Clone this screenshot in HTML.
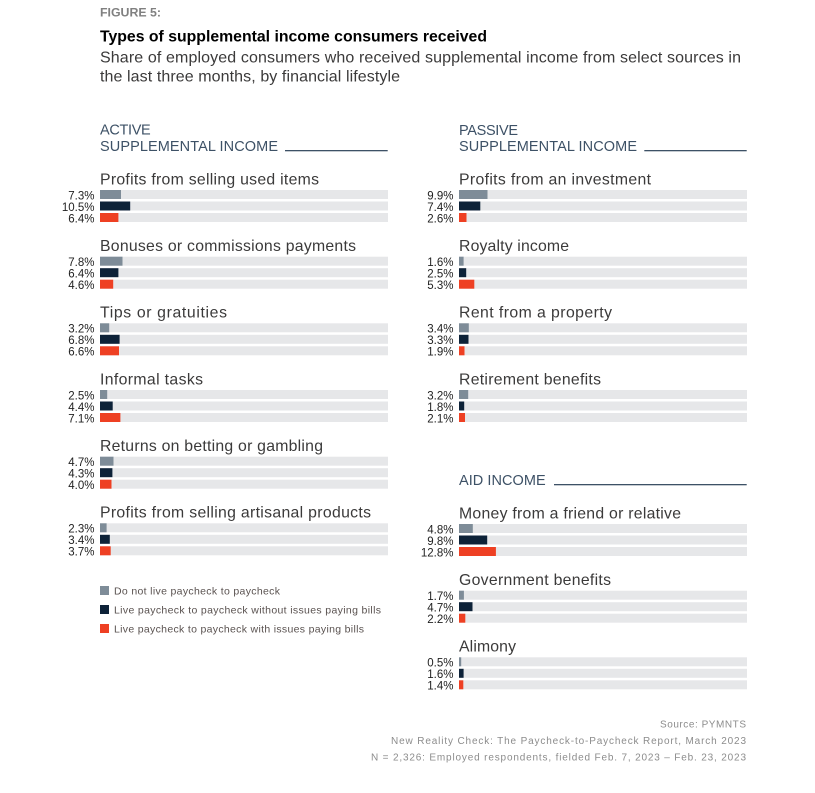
<!DOCTYPE html>
<html>
<head>
<meta charset="utf-8">
<style>
html,body{margin:0;padding:0;background:#ffffff;}
svg{display:block;}
text{font-family:"Liberation Sans",Arial,sans-serif;}
.gt{font-size:15.8px;fill:#3b3a3a;}
.pl{font-size:11.5px;fill:#222222;text-anchor:end;}
.hd{font-size:14.5px;fill:#3d5166;}
.lg{font-size:10.5px;fill:#5a5250;}
.ft{font-size:10px;fill:#8c8c8c;text-anchor:end;}
.tr{fill:#e6e7e9;}
.c1{fill:#7e8c98;}
.c2{fill:#0d2238;}
.c3{fill:#ee4023;}
</style>
</head>
<body>
<svg width="815" height="793" viewBox="0 0 815 793" xmlns="http://www.w3.org/2000/svg">
<rect width="815" height="793" fill="#ffffff"/>

<text x="100" y="16.7" font-size="12" font-weight="bold" fill="#808080" textLength="61" lengthAdjust="spacingAndGlyphs">FIGURE 5:</text>
<text x="100" y="41.7" font-size="15.5" font-weight="bold" fill="#000000" textLength="387" lengthAdjust="spacingAndGlyphs">Types of supplemental income consumers received</text>
<text x="100" y="62.3" font-size="16" fill="#3b3a3a" textLength="641" lengthAdjust="spacing">Share of employed consumers who received supplemental income from select sources in</text>
<text x="100" y="81.7" font-size="16" fill="#3b3a3a" textLength="300" lengthAdjust="spacing">the last three months, by financial lifestyle</text>

<text class="hd" x="100" y="134.3" textLength="50.7" lengthAdjust="spacing">ACTIVE</text>
<text class="hd" x="100" y="151" textLength="178" lengthAdjust="spacing">SUPPLEMENTAL INCOME</text>
<rect x="285" y="150" width="102.7" height="1.3" fill="#3d5166"/>

<text class="hd" x="459" y="134.8" textLength="59" lengthAdjust="spacing">PASSIVE</text>
<text class="hd" x="459" y="151" textLength="178" lengthAdjust="spacing">SUPPLEMENTAL INCOME</text>
<rect x="644.3" y="150" width="102.4" height="1.3" fill="#3d5166"/>

<text class="hd" x="459" y="485" textLength="86.7" lengthAdjust="spacing">AID INCOME</text>
<rect x="554" y="484" width="192.7" height="1.3" fill="#3d5166"/>

<text class="gt" x="100" y="184.3" textLength="219" lengthAdjust="spacing">Profits from selling used items</text>
<rect class="tr" x="100" y="190" width="288" height="9"/>
<rect class="tr" x="100" y="201.5" width="288" height="9"/>
<rect class="tr" x="100" y="213" width="288" height="9"/>
<rect class="c1" x="100" y="190" width="21.0" height="9"/>
<rect class="c2" x="100" y="201.5" width="30.2" height="9"/>
<rect class="c3" x="100" y="213" width="18.4" height="9"/>
<text class="pl" x="94.5" y="199.3">7.3%</text>
<text class="pl" x="94.5" y="210.8">10.5%</text>
<text class="pl" x="94.5" y="222.3">6.4%</text>

<text class="gt" x="100" y="251" textLength="256" lengthAdjust="spacing">Bonuses or commissions payments</text>
<rect class="tr" x="100" y="256.7" width="288" height="9"/>
<rect class="tr" x="100" y="268.2" width="288" height="9"/>
<rect class="tr" x="100" y="279.7" width="288" height="9"/>
<rect class="c1" x="100" y="256.7" width="22.5" height="9"/>
<rect class="c2" x="100" y="268.2" width="18.4" height="9"/>
<rect class="c3" x="100" y="279.7" width="13.2" height="9"/>
<text class="pl" x="94.5" y="266">7.8%</text>
<text class="pl" x="94.5" y="277.5">6.4%</text>
<text class="pl" x="94.5" y="289">4.6%</text>

<text class="gt" x="100" y="317.6" textLength="127" lengthAdjust="spacing">Tips or gratuities</text>
<rect class="tr" x="100" y="323.3" width="288" height="9"/>
<rect class="tr" x="100" y="334.8" width="288" height="9"/>
<rect class="tr" x="100" y="346.3" width="288" height="9"/>
<rect class="c1" x="100" y="323.3" width="9.2" height="9"/>
<rect class="c2" x="100" y="334.8" width="19.6" height="9"/>
<rect class="c3" x="100" y="346.3" width="19.0" height="9"/>
<text class="pl" x="94.5" y="332.6">3.2%</text>
<text class="pl" x="94.5" y="344.1">6.8%</text>
<text class="pl" x="94.5" y="355.6">6.6%</text>

<text class="gt" x="100" y="384.3" textLength="103" lengthAdjust="spacing">Informal tasks</text>
<rect class="tr" x="100" y="390" width="288" height="9"/>
<rect class="tr" x="100" y="401.5" width="288" height="9"/>
<rect class="tr" x="100" y="413" width="288" height="9"/>
<rect class="c1" x="100" y="390" width="7.2" height="9"/>
<rect class="c2" x="100" y="401.5" width="12.7" height="9"/>
<rect class="c3" x="100" y="413" width="20.4" height="9"/>
<text class="pl" x="94.5" y="399.3">2.5%</text>
<text class="pl" x="94.5" y="410.8">4.4%</text>
<text class="pl" x="94.5" y="422.3">7.1%</text>

<text class="gt" x="100" y="451" textLength="223" lengthAdjust="spacing">Returns on betting or gambling</text>
<rect class="tr" x="100" y="456.7" width="288" height="9"/>
<rect class="tr" x="100" y="468.2" width="288" height="9"/>
<rect class="tr" x="100" y="479.7" width="288" height="9"/>
<rect class="c1" x="100" y="456.7" width="13.5" height="9"/>
<rect class="c2" x="100" y="468.2" width="12.4" height="9"/>
<rect class="c3" x="100" y="479.7" width="11.5" height="9"/>
<text class="pl" x="94.5" y="466">4.7%</text>
<text class="pl" x="94.5" y="477.5">4.3%</text>
<text class="pl" x="94.5" y="489">4.0%</text>

<text class="gt" x="100" y="517.6" textLength="271" lengthAdjust="spacing">Profits from selling artisanal products</text>
<rect class="tr" x="100" y="523.3" width="288" height="9"/>
<rect class="tr" x="100" y="534.8" width="288" height="9"/>
<rect class="tr" x="100" y="546.3" width="288" height="9"/>
<rect class="c1" x="100" y="523.3" width="6.6" height="9"/>
<rect class="c2" x="100" y="534.8" width="9.8" height="9"/>
<rect class="c3" x="100" y="546.3" width="10.7" height="9"/>
<text class="pl" x="94.5" y="532.6">2.3%</text>
<text class="pl" x="94.5" y="544.1">3.4%</text>
<text class="pl" x="94.5" y="555.6">3.7%</text>

<rect class="c1" x="100" y="586" width="9" height="9"/>
<text class="lg" x="114" y="594.5" textLength="166" lengthAdjust="spacing">Do not live paycheck to paycheck</text>
<rect class="c2" x="100" y="605" width="9" height="9"/>
<text class="lg" x="114" y="613.5" textLength="267" lengthAdjust="spacing">Live paycheck to paycheck without issues paying bills</text>
<rect class="c3" x="100" y="624" width="9" height="9"/>
<text class="lg" x="114" y="632.5" textLength="250" lengthAdjust="spacing">Live paycheck to paycheck with issues paying bills</text>

<text class="gt" x="459" y="184.3" textLength="192" lengthAdjust="spacing">Profits from an investment</text>
<rect class="tr" x="459" y="190" width="288" height="9"/>
<rect class="tr" x="459" y="201.5" width="288" height="9"/>
<rect class="tr" x="459" y="213" width="288" height="9"/>
<rect class="c1" x="459" y="190" width="28.5" height="9"/>
<rect class="c2" x="459" y="201.5" width="21.3" height="9"/>
<rect class="c3" x="459" y="213" width="7.5" height="9"/>
<text class="pl" x="453.5" y="199.3">9.9%</text>
<text class="pl" x="453.5" y="210.8">7.4%</text>
<text class="pl" x="453.5" y="222.3">2.6%</text>

<text class="gt" x="459" y="251" textLength="110" lengthAdjust="spacing">Royalty income</text>
<rect class="tr" x="459" y="256.7" width="288" height="9"/>
<rect class="tr" x="459" y="268.2" width="288" height="9"/>
<rect class="tr" x="459" y="279.7" width="288" height="9"/>
<rect class="c1" x="459" y="256.7" width="4.6" height="9"/>
<rect class="c2" x="459" y="268.2" width="7.2" height="9"/>
<rect class="c3" x="459" y="279.7" width="15.3" height="9"/>
<text class="pl" x="453.5" y="266">1.6%</text>
<text class="pl" x="453.5" y="277.5">2.5%</text>
<text class="pl" x="453.5" y="289">5.3%</text>

<text class="gt" x="459" y="317.6" textLength="153" lengthAdjust="spacing">Rent from a property</text>
<rect class="tr" x="459" y="323.3" width="288" height="9"/>
<rect class="tr" x="459" y="334.8" width="288" height="9"/>
<rect class="tr" x="459" y="346.3" width="288" height="9"/>
<rect class="c1" x="459" y="323.3" width="9.8" height="9"/>
<rect class="c2" x="459" y="334.8" width="9.5" height="9"/>
<rect class="c3" x="459" y="346.3" width="5.5" height="9"/>
<text class="pl" x="453.5" y="332.6">3.4%</text>
<text class="pl" x="453.5" y="344.1">3.3%</text>
<text class="pl" x="453.5" y="355.6">1.9%</text>

<text class="gt" x="459" y="384.3" textLength="142" lengthAdjust="spacing">Retirement benefits</text>
<rect class="tr" x="459" y="390" width="288" height="9"/>
<rect class="tr" x="459" y="401.5" width="288" height="9"/>
<rect class="tr" x="459" y="413" width="288" height="9"/>
<rect class="c1" x="459" y="390" width="9.2" height="9"/>
<rect class="c2" x="459" y="401.5" width="5.2" height="9"/>
<rect class="c3" x="459" y="413" width="6.0" height="9"/>
<text class="pl" x="453.5" y="399.3">3.2%</text>
<text class="pl" x="453.5" y="410.8">1.8%</text>
<text class="pl" x="453.5" y="422.3">2.1%</text>

<text class="gt" x="459" y="518.3" textLength="222" lengthAdjust="spacing">Money from a friend or relative</text>
<rect class="tr" x="459" y="524" width="288" height="9"/>
<rect class="tr" x="459" y="535.5" width="288" height="9"/>
<rect class="tr" x="459" y="547" width="288" height="9"/>
<rect class="c1" x="459" y="524" width="13.8" height="9"/>
<rect class="c2" x="459" y="535.5" width="28.2" height="9"/>
<rect class="c3" x="459" y="547" width="36.9" height="9"/>
<text class="pl" x="453.5" y="533.3">4.8%</text>
<text class="pl" x="453.5" y="544.8">9.8%</text>
<text class="pl" x="453.5" y="556.3">12.8%</text>

<text class="gt" x="459" y="585" textLength="152" lengthAdjust="spacing">Government benefits</text>
<rect class="tr" x="459" y="590.7" width="288" height="9"/>
<rect class="tr" x="459" y="602.2" width="288" height="9"/>
<rect class="tr" x="459" y="613.7" width="288" height="9"/>
<rect class="c1" x="459" y="590.7" width="4.9" height="9"/>
<rect class="c2" x="459" y="602.2" width="13.5" height="9"/>
<rect class="c3" x="459" y="613.7" width="6.3" height="9"/>
<text class="pl" x="453.5" y="600">1.7%</text>
<text class="pl" x="453.5" y="611.5">4.7%</text>
<text class="pl" x="453.5" y="623">2.2%</text>

<text class="gt" x="459" y="651.6" textLength="57" lengthAdjust="spacing">Alimony</text>
<rect class="tr" x="459" y="657.3" width="288" height="9"/>
<rect class="tr" x="459" y="668.8" width="288" height="9"/>
<rect class="tr" x="459" y="680.3" width="288" height="9"/>
<rect class="c1" x="459" y="657.3" width="2.2" height="9"/>
<rect class="c2" x="459" y="668.8" width="4.6" height="9"/>
<rect class="c3" x="459" y="680.3" width="4.3" height="9"/>
<text class="pl" x="453.5" y="666.6">0.5%</text>
<text class="pl" x="453.5" y="678.1">1.6%</text>
<text class="pl" x="453.5" y="689.6">1.4%</text>

<text class="ft" x="746" y="727.5" textLength="86" lengthAdjust="spacing">Source: PYMNTS</text>
<text class="ft" x="746" y="744" textLength="355" lengthAdjust="spacing">New Reality Check: The Paycheck-to-Paycheck Report, March 2023</text>
<text class="ft" x="746" y="760.3" textLength="375" lengthAdjust="spacing">N = 2,326: Employed respondents, fielded Feb. 7, 2023 – Feb. 23, 2023</text>
</svg>
</body>
</html>
